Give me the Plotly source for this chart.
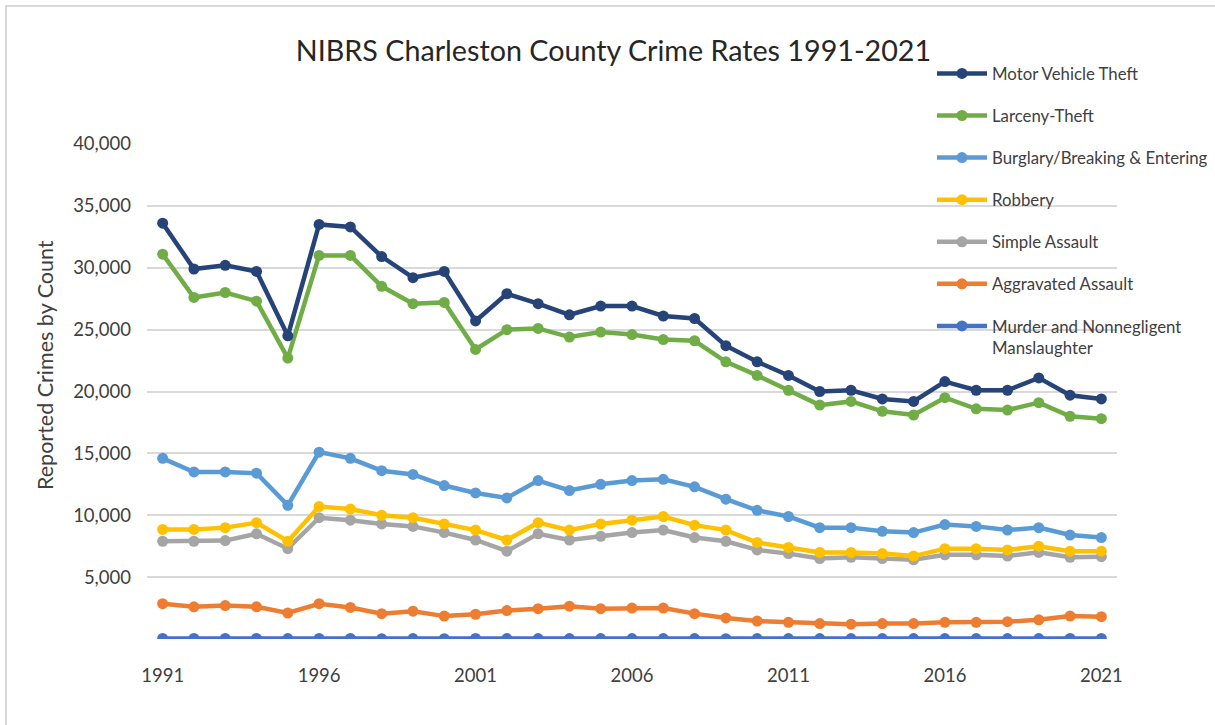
import plotly.graph_objects as go

years = list(range(1991, 2022))

motor_vehicle_theft = [33600, 29900, 30200, 29700, 24500, 33500, 33300, 30900, 29200, 29700,
                       25700, 27900, 27100, 26200, 26900, 26900, 26100, 25900, 23700, 22400,
                       21300, 20000, 20100, 19400, 19200, 20800, 20100, 20100, 21100, 19700, 19400]
larceny_theft = [31100, 27600, 28000, 27300, 22700, 31000, 31000, 28500, 27100, 27200,
                 23400, 25000, 25100, 24400, 24800, 24600, 24200, 24100, 22400, 21300,
                 20100, 18900, 19200, 18400, 18100, 19500, 18600, 18500, 19100, 18000, 17800]
burglary = [14600, 13500, 13500, 13400, 10800, 15100, 14600, 13600, 13300, 12400,
            11800, 11400, 12800, 12000, 12500, 12800, 12900, 12300, 11300, 10400,
            9900, 9000, 9000, 8700, 8600, 9250, 9100, 8800, 9000, 8400, 8200]
robbery = [8850, 8850, 9000, 9400, 7900, 10700, 10500, 10000, 9800, 9300,
           8800, 8000, 9400, 8800, 9300, 9600, 9900, 9200, 8800, 7800,
           7400, 7000, 7000, 6900, 6700, 7300, 7300, 7200, 7500, 7100, 7100]
simple_assault = [7900, 7900, 7950, 8500, 7300, 9800, 9600, 9300, 9100, 8600,
                  8000, 7100, 8500, 8000, 8300, 8600, 8800, 8200, 7900, 7200,
                  6900, 6500, 6600, 6500, 6400, 6800, 6800, 6700, 7000, 6600, 6650]
aggravated_assault = [2850, 2600, 2700, 2600, 2100, 2850, 2550, 2050, 2250, 1850,
                      2000, 2300, 2450, 2650, 2450, 2500, 2500, 2050, 1700, 1450,
                      1350, 1250, 1200, 1250, 1250, 1350, 1350, 1400, 1550, 1850, 1800]
murder = [45, 42, 44, 40, 38, 41, 43, 25, 32, 30, 40, 38, 36, 33, 35, 37,
          39, 34, 30, 33, 35, 31, 36, 34, 33, 38, 35, 36, 37, 42, 44]

# drawing order (first = bottom); legend shows the reverse
series_names = ["Murder and Nonnegligent<br>Manslaughter", "Aggravated Assault", "Simple Assault",
                "Robbery", "Burglary/Breaking & Entering", "Larceny-Theft", "Motor Vehicle Theft"]
series_values = [murder, aggravated_assault, simple_assault, robbery, burglary,
                 larceny_theft, motor_vehicle_theft]
series_colors = ["#4472C4", "#ED7D31", "#A5A5A5", "#FFC000", "#5B9BD5", "#70AD47", "#264478"]

y_tick_vals = [0, 5000, 10000, 15000, 20000, 25000, 30000, 35000, 40000]
y_tick_text = ["", "5,000", "10,000", "15,000", "20,000", "25,000", "30,000", "35,000", "40,000"]
x_tick_vals = [1991, 1996, 2001, 2006, 2011, 2016, 2021]

FONT = "Lato"
TXT = "#404040"

fig = go.Figure()
n = len(series_names)
for i, (name, vals, col) in enumerate(zip(series_names, series_values, series_colors)):
    fig.add_trace(go.Scatter(
        x=years, y=vals, name=name, mode="lines+markers", legendgroup=name,
        legendrank=n - i,
        line=dict(color=col, width=4.5),
        marker=dict(color=col, size=11),
    ))

W, H = 1215, 725
L, R, T, B = 147, 98, 144, 86
pw, ph = W - L - R, H - T - B

def px_x(px):
    return (px - L) / pw

def px_y(py):
    return (H - B - py) / ph

fig.update_layout(
    width=W, height=H,
    margin=dict(l=L, r=R, t=T, b=B, pad=0, autoexpand=False),
    paper_bgcolor="white", plot_bgcolor="white",
    font=dict(family=FONT, color=TXT),
    title=dict(text="NIBRS Charleston County Crime Rates 1991-2021",
               font=dict(family=FONT, size=28.7, color="#262626"),
               x=613.5 / W, xanchor="center", y=1 - 51 / H, yanchor="middle",
               xref="container", yref="container"),
    xaxis=dict(range=[1990.5, 2021.5], tickvals=x_tick_vals, showgrid=False,
               zeroline=False, showline=False, ticks="",
               tickfont=dict(size=18.5, color=TXT), ticklabelstandoff=23),
    yaxis=dict(range=[0, 40000], tickvals=y_tick_vals, ticktext=y_tick_text,
               showgrid=True, gridcolor="#D9D9D9", gridwidth=1.5, zeroline=False,
               showline=False, ticks="", tickfont=dict(size=18.5, color=TXT),
               ticklabelstandoff=15),
    legend=dict(x=px_x(932), xanchor="left", y=px_y(56), yanchor="top",
                traceorder="grouped", tracegroupgap=17.25, valign="top",
                bgcolor="rgba(0,0,0,0)", font=dict(family=FONT, size=16.8, color=TXT),
                itemwidth=50),
    showlegend=True,
    annotations=[dict(text="Reported Crimes by Count", textangle=-90, showarrow=False,
                      xref="paper", yref="paper", x=px_x(45), y=px_y(365),
                      xanchor="center", yanchor="middle",
                      font=dict(family=FONT, size=21.5, color=TXT))],
    shapes=[dict(type="rect", xref="paper", yref="paper",
                 x0=px_x(6), x1=px_x(1240), y0=px_y(760), y1=px_y(6),
                 line=dict(color="#D9D9D9", width=2), fillcolor="rgba(0,0,0,0)",
                 layer="below")],
)

fig.write_html(
    "out.html",
    config={"displayModeBar": False},
    post_script=(
        "document.documentElement.style.overflow='hidden';"
        "document.body.style.margin='0';"
        "document.body.style.overflow='hidden';"
    ),
)
